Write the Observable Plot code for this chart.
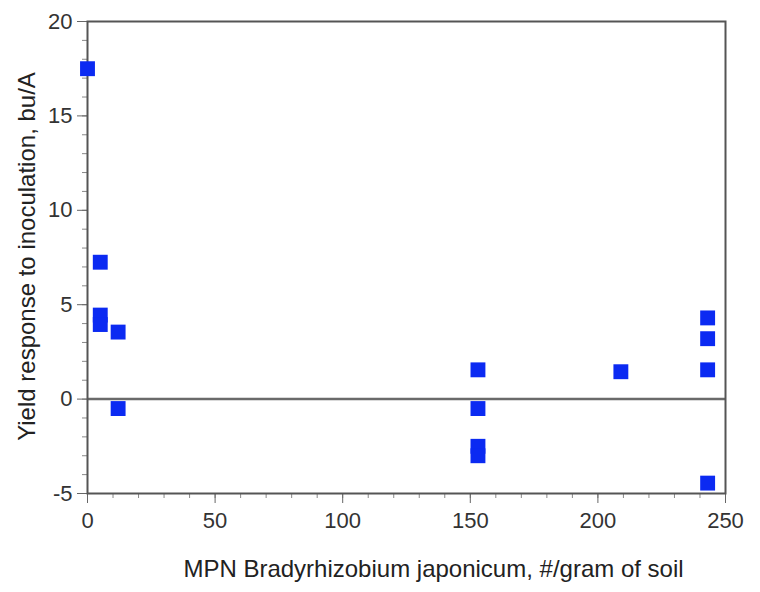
<!DOCTYPE html>
<html><head><meta charset="utf-8">
<script src="https://cdn.jsdelivr.net/npm/d3@7"></script>
<script src="https://cdn.jsdelivr.net/npm/@observablehq/plot@0.6"></script>
<style>body{margin:0;background:#fff}</style>
</head><body><div id="chart"></div>
<script>
const mpn = [0, 5, 5, 5, 12, 12, 153, 153, 153, 153, 209, 243, 243, 243, 243];
const yieldResp = [17.5, 7.25, 4.45, 3.95, 3.55, -0.5, 1.55, -0.5, -2.5, -3.0, 1.45, 4.3, 3.2, 1.55, -4.45];
const xTicks = [0, 50, 100, 150, 200, 250];
const yTicks = [-5, 0, 5, 10, 15, 20];
const xMinor = d3.range(0, 251, 10);
const yMinor = d3.range(-5, 21, 1);
const xLabel = "MPN Bradyrhizobium japonicum, #/gram of soil";
const yLabel = "Yield response to inoculation, bu/A";

const data = mpn.map((x, i) => ({x, y: yieldResp[i]}));

const chart = Plot.plot({
  width: 760,
  height: 592,
  marginLeft: 87,
  marginRight: 35,
  marginTop: 21,
  marginBottom: 99,
  style: {fontFamily: "'Liberation Sans', Arial, sans-serif", fontSize: "22px", color: "#333", background: "#fff"},
  x: {domain: [0, 250]},
  y: {domain: [-5, 20]},
  marks: [
    Plot.axisX(xMinor, {tickSize: 5, tickFormat: () => "", stroke: "#888", label: null}),
    Plot.axisY(yMinor, {tickSize: 5, tickFormat: () => "", stroke: "#888", label: null}),
    Plot.axisX(xTicks, {tickSize: 10, tickPadding: 9, stroke: "#666", label: null, fontSize: 22, fill: "#333", tickFormat: d => String(d)}),
    Plot.axisY(yTicks, {tickSize: 10, tickPadding: 5, stroke: "#666", label: null, fontSize: 22, fill: "#333", tickFormat: d => String(d)}),
    Plot.ruleY([0], {stroke: "#6a6a6a", strokeWidth: 2.5}),
    Plot.frame({stroke: "#555", strokeWidth: 2}),
    Plot.dot(data, {x: "x", y: "y", symbol: "square", r: 8.4, fill: "#0b2af2", stroke: "none"}),
    Plot.text([xLabel], {frameAnchor: "bottom", textAnchor: "middle", dy: 83, dx: 27, fontSize: 24, fill: "#222", ariaLabel: "xlabel"}),
    Plot.text([yLabel], {frameAnchor: "left", textAnchor: "middle", rotate: -90, dx: -60, dy: -1, fontSize: 24, fill: "#222", ariaLabel: "ylabel"})
  ]
});
document.getElementById("chart").appendChild(chart);
// fit label font sizes to the reference's label lengths
[["xlabel", 507], ["ylabel", 378]].forEach(([name, target]) => {
  const t = chart.querySelector(`g[aria-label="${name}"] text`);
  if (t) {
    const len = t.getComputedTextLength();
    if (len > 0) t.setAttribute("font-size", (24 * target / len).toFixed(2));
  }
});
</script>
</body></html>
